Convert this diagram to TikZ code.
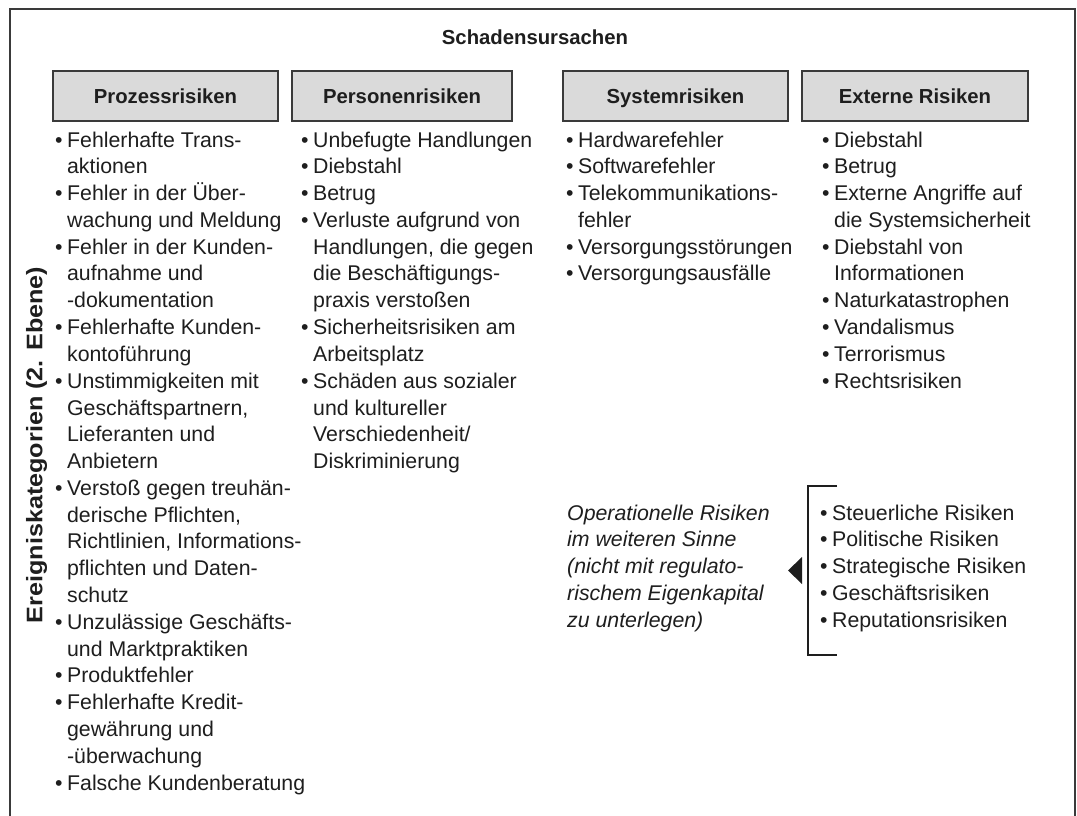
\documentclass[tikz,border=0pt]{standalone}
\usepackage{fontspec}
\setmainfont{Liberation Sans}
\usetikzlibrary{calc}
\definecolor{ink}{HTML}{1E1E1E}
\definecolor{frameline}{HTML}{3A3A3A}
\definecolor{headfill}{HTML}{DADADA}
\newcommand{\bodyfont}{\fontsize{21.3}{26.8}\selectfont}
\newcommand{\headfont}{\fontsize{20.3}{24}\selectfont\bfseries}
\newcommand{\bl}{\textbullet}
\begin{document}
\begin{tikzpicture}[x=1pt,y=-1pt,
  headbox/.style={draw=frameline, line width=1.3pt, fill=headfill, minimum height=50pt,
    inner sep=0pt, text height=15pt, text depth=0pt, font=\headfont, text=ink},
  listcol/.style={anchor=base west, inner sep=0pt, font=\bodyfont, text=ink},
  titletext/.style={anchor=base, inner sep=0pt, font=\headfont, text=ink}]
\useasboundingbox (0,0) rectangle (1077,816);
\fill[white] (0,0) rectangle (1077,816);
% outer frame (open at the bottom)
\draw[frameline, line width=1.5pt] (10,816) -- (10,9) -- (1075,9) -- (1075,816);
% title
\node[titletext] (title) at (535,45) {Schadensursachen};
% header boxes
\node[headbox, minimum width=225pt] (h1) at (165.5,96) {Prozessrisiken};
\node[headbox, minimum width=220pt] (h2) at (402,96) {Personenrisiken};
\node[headbox, minimum width=225pt] (h3) at (675.5,96) {Systemrisiken};
\node[headbox, minimum width=226pt] (h4) at (915,96) {Externe Risiken};
% vertical label
\node[rotate=90, inner sep=0pt, font=\fontsize{22.5}{26}\selectfont\bfseries, text=ink] (vlabel) at (36.5,445) {\scalebox{1.12}[1]{Ereigniskategorien (2. Ebene)}};
% columns
\node[listcol] (c1) at (55,147) {\begin{tabular}[t]{@{}l@{\hspace{4.5pt}}l@{}}
\bl & Fehlerhafte Trans-\\
& aktionen\\
\bl & Fehler in der Über-\\
& wachung und Meldung\\
\bl & Fehler in der Kunden-\\
& aufnahme und\\
& -dokumentation\\
\bl & Fehlerhafte Kunden-\\
& kontoführung\\
\bl & Unstimmigkeiten mit\\
& Geschäftspartnern,\\
& Lieferanten und\\
& Anbietern\\
\bl & Verstoß gegen treuhän-\\
& derische Pflichten,\\
& Richtlinien, Informations-\\
& pflichten und Daten-\\
& schutz\\
\bl & Unzulässige Geschäfts-\\
& und Marktpraktiken\\
\bl & Produktfehler\\
\bl & Fehlerhafte Kredit-\\
& gewährung und\\
& -überwachung\\
\bl & Falsche Kundenberatung
\end{tabular}};
\node[listcol] (c2) at (301,147) {\begin{tabular}[t]{@{}l@{\hspace{4.5pt}}l@{}}
\bl & Unbefugte Handlungen\\
\bl & Diebstahl\\
\bl & Betrug\\
\bl & Verluste aufgrund von\\
& Handlungen, die gegen\\
& die Beschäftigungs-\\
& praxis verstoßen\\
\bl & Sicherheitsrisiken am\\
& Arbeitsplatz\\
\bl & Schäden aus sozialer\\
& und kultureller\\
& Verschiedenheit/\\
& Diskriminierung
\end{tabular}};
\node[listcol] (c3) at (566,147) {\begin{tabular}[t]{@{}l@{\hspace{4.5pt}}l@{}}
\bl & Hardwarefehler\\
\bl & Softwarefehler\\
\bl & Telekommunikations-\\
& fehler\\
\bl & Versorgungsstörungen\\
\bl & Versorgungsausfälle
\end{tabular}};
\node[listcol] (c4) at (822,147) {\begin{tabular}[t]{@{}l@{\hspace{4.5pt}}l@{}}
\bl & Diebstahl\\
\bl & Betrug\\
\bl & Externe Angriffe auf\\
& die Systemsicherheit\\
\bl & Diebstahl von\\
& Informationen\\
\bl & Naturkatastrophen\\
\bl & Vandalismus\\
\bl & Terrorismus\\
\bl & Rechtsrisiken
\end{tabular}};
% operational risks in the wider sense
\node[listcol, font=\bodyfont\itshape] (op) at (567,520) {\begin{tabular}[t]{@{}l@{}}
Operationelle Risiken\\
im weiteren Sinne\\
(nicht mit regulato-\\
rischem Eigenkapital\\
zu unterlegen)
\end{tabular}};
\node[listcol] (ext) at (820,520) {\begin{tabular}[t]{@{}l@{\hspace{4.5pt}}l@{}}
\bl & Steuerliche Risiken\\
\bl & Politische Risiken\\
\bl & Strategische Risiken\\
\bl & Geschäftsrisiken\\
\bl & Reputationsrisiken
\end{tabular}};
% bracket and pointer
\coordinate (bt) at (837,486);
\coordinate (bb) at (837,655);
\draw[ink, line width=2.6pt] (bt) -- (808,486) -- (808,655) -- (bb);
\fill[ink] (802,557) -- (788,570.5) -- (802,584) -- cycle;
\end{tikzpicture}
\end{document}
